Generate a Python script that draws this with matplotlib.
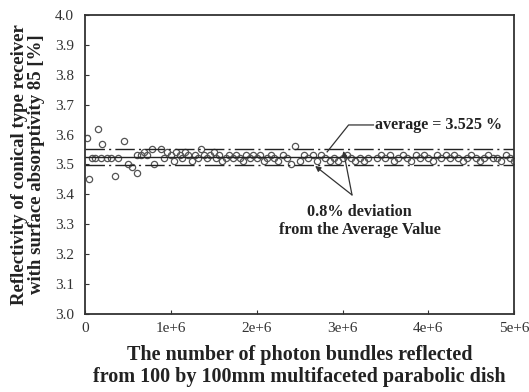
import numpy as np
from matplotlib import pyplot as plt
from matplotlib.ticker import FixedLocator, FixedFormatter

# number of photon bundles (millions) and reflectivity [%]
bundles = [0.02, 0.05, 0.08, 0.12, 0.15, 0.18, 0.20, 0.25, 0.30, 0.35,
           0.38, 0.45, 0.50, 0.55, 0.60, 0.60, 0.65, 0.68, 0.72, 0.78,
           0.80, 0.88, 0.92, 0.95, 1.00, 1.03, 1.06, 1.10, 1.13, 1.16,
           1.20, 1.24, 1.28, 1.32, 1.35, 1.38, 1.42, 1.45, 1.50, 1.53,
           1.56, 1.60, 1.64, 1.68, 1.72, 1.76, 1.80, 1.84, 1.88, 1.92,
           1.96, 2.00, 2.04, 2.08, 2.12, 2.16, 2.20, 2.25, 2.30, 2.35,
           2.40, 2.45, 2.50, 2.55, 2.60, 2.65, 2.70, 2.75, 2.80, 2.85,
           2.90, 2.95, 3.00, 3.05, 3.10, 3.15, 3.20, 3.25, 3.30, 3.40,
           3.45, 3.50, 3.55, 3.60, 3.65, 3.70, 3.75, 3.80, 3.85, 3.90,
           3.95, 4.00, 4.05, 4.10, 4.15, 4.20, 4.25, 4.30, 4.35, 4.40,
           4.45, 4.50, 4.55, 4.60, 4.65, 4.70, 4.75, 4.80, 4.85, 4.90,
           4.95, 5.00]
reflectivity = [3.59, 3.45, 3.52, 3.52, 3.62, 3.52, 3.57, 3.52, 3.52, 3.46,
                3.52, 3.58, 3.50, 3.49, 3.47, 3.53, 3.53, 3.54, 3.53, 3.55,
                3.50, 3.55, 3.52, 3.54, 3.53, 3.51, 3.54, 3.53, 3.52, 3.54,
                3.53, 3.51, 3.53, 3.52, 3.55, 3.53, 3.52, 3.53, 3.54, 3.52,
                3.53, 3.51, 3.52, 3.53, 3.52, 3.53, 3.52, 3.51, 3.53, 3.52,
                3.53, 3.52, 3.53, 3.51, 3.52, 3.53, 3.52, 3.51, 3.53, 3.52,
                3.50, 3.56, 3.51, 3.53, 3.52, 3.53, 3.51, 3.53, 3.52, 3.51,
                3.52, 3.51, 3.52, 3.53, 3.52, 3.51, 3.52, 3.51, 3.52, 3.52,
                3.53, 3.52, 3.53, 3.51, 3.52, 3.53, 3.52, 3.51, 3.53, 3.52,
                3.53, 3.52, 3.51, 3.53, 3.52, 3.53, 3.52, 3.53, 3.52, 3.51,
                3.52, 3.53, 3.52, 3.51, 3.52, 3.53, 3.52, 3.52, 3.51, 3.53,
                3.52, 3.51]
average = 3.525
deviation = 0.008

x_ticks = [0, 1e6, 2e6, 3e6, 4e6, 5e6]
x_labels = ['0', '1e+6', '2e+6', '3e+6', '4e+6', '5e+6']
y_ticks = [3.0, 3.1, 3.2, 3.3, 3.4, 3.5, 3.6, 3.7, 3.8, 3.9, 4.0]

plt.rcParams['font.family'] = ['Liberation Serif', 'DejaVu Serif']

fig = plt.figure(figsize=(5.29, 3.92), dpi=100)
ax = fig.add_axes([0.161, 0.199, 0.811, 0.763])

x = np.array(bundles) * 1e6
y = np.array(reflectivity)
ax.plot(x, y, linestyle='none', marker='o', markersize=4.5,
        markerfacecolor='none', markeredgecolor='#555555', markeredgewidth=0.9)

dashdot = (0, (14, 3, 1.5, 3))
ax.axhline(average, color='#222222', lw=1.0)
ax.axhline(average * (1 + deviation), color='#222222', lw=1.0, ls=dashdot)
ax.axhline(average * (1 - deviation), color='#222222', lw=1.0, ls=dashdot)

ax.set_xlim(0, 5e6)
ax.set_ylim(3.0, 4.0)
ax.xaxis.set_major_locator(FixedLocator(x_ticks))
ax.xaxis.set_major_formatter(FixedFormatter(x_labels))
ax.set_yticks(y_ticks)
ax.set_yticklabels(['%.1f' % v for v in y_ticks])
ax.tick_params(direction='in', length=3, labelsize=11, colors='#333333',
               labelcolor='#333333')
ax.tick_params(axis='x', pad=6)
ax.tick_params(axis='y', pad=8)
for s in ax.spines.values():
    s.set_linewidth(1.3)
    s.set_color('#333333')

# annotations
ax.text(3.38e6, 3.632, 'average = 3.525 %', fontsize=11.6, fontweight='bold',
        va='center', ha='left', color='#222222')
ax.plot([3.36e6, 3.07e6, 2.82e6], [3.632, 3.632, 3.542], color='#333333', lw=0.9)

ax.text(3.2e6, 3.34, '0.8% deviation', fontsize=11.7, fontweight='bold',
        ha='center', va='center', color='#222222')
ax.text(3.2e6, 3.282, 'from the Average Value', fontsize=11.7, fontweight='bold',
        ha='center', va='center', color='#222222')
ax.annotate('', xy=(2.68e6, 3.495), xytext=(3.11e6, 3.398),
            arrowprops=dict(arrowstyle='-|>', color='#333333', lw=0.9,
                            mutation_scale=8, shrinkA=0, shrinkB=0))
ax.annotate('', xy=(3.01e6, 3.545), xytext=(3.11e6, 3.398),
            arrowprops=dict(arrowstyle='-|>', color='#333333', lw=0.9,
                            mutation_scale=8, shrinkA=0, shrinkB=0))

ax.set_ylabel('Reflectivity of conical type receiver\nwith surface absorptivity 85 [%]',
              fontsize=13.5, fontweight='bold', color='#222222', labelpad=7,
              linespacing=1.0)
ax.set_xlabel('The number of photon bundles reflected\nfrom 100 by 100mm multifaceted parabolic dish',
              fontsize=14.5, fontweight='bold', color='#222222', labelpad=7,
              linespacing=1.15)

fig.savefig('out.png', dpi=100)
